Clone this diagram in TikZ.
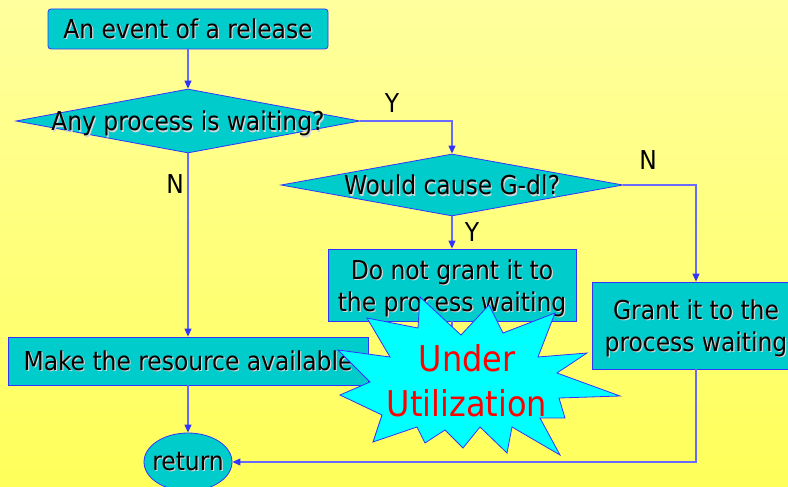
\documentclass[tikz,border=0pt]{standalone}
\usepackage{fontspec}
\setmainfont{DejaVu Sans Condensed}
\usetikzlibrary{shapes.geometric,arrows.meta}

\definecolor{boxfill}{HTML}{00CCCC}
\definecolor{edge}{HTML}{3333FF}
\definecolor{wire}{HTML}{6A6AFF}
\definecolor{bgtop}{HTML}{FFFF9E}
\definecolor{bgmid}{HTML}{FFFFD4}
\definecolor{bgbot}{HTML}{FFFF5A}
\definecolor{burst}{HTML}{00FFFF}
\definecolor{shadowc}{HTML}{D6D6D6}

% text with a soft drop shadow
\newcommand\shd[1]{\leavevmode\rlap{\kern1.2pt\raisebox{-1.2pt}{\color{shadowc}#1}}#1}
% tall strut that lowers a two-line block a little inside its box
\newcommand\toproom{\rule{0pt}{27pt}}

\begin{document}
\begin{tikzpicture}[x=1pt,y=-1pt,
  font=\fontsize{26}{32}\selectfont,
  box/.style={draw=edge, line width=0.8pt, fill=boxfill, inner sep=0pt, align=center},
  decision/.style={diamond, draw=edge, line width=0.8pt, fill=boxfill, inner sep=0pt, text depth=0pt},
  terminal/.style={ellipse, draw=edge, line width=0.8pt, fill=boxfill, inner sep=0pt},
  flow/.style={draw=wire, line width=1.1pt, -{Triangle[length=8pt,width=7pt,color=edge]}},
  plain/.style={draw=wire, line width=1.1pt},
  tag/.style={inner sep=0pt, font=\fontsize{26}{28}\selectfont},
]
\useasboundingbox (0,0) rectangle (788,487);
\clip (0,0) rectangle (788,487);

% background
\fill[top color=bgtop, middle color=bgmid, bottom color=bgbot] (0,0) rectangle (788,487);

% flow chart blocks
\node[box, rounded corners=3pt, minimum width=280, minimum height=40] (ev) at (188,29) {\shd{An event of a release}};
\node[decision, minimum width=344, minimum height=64] (q1) at (188,121) {\makebox[0pt]{\shd{Any process is waiting?}}};
\node[decision, minimum width=342, minimum height=62] (q2) at (452,185) {\makebox[0pt]{\shd{Would cause G-dl?}}};
\node[box, minimum width=248, minimum height=72] (dn) at (452,285) {\toproom\shd{Do not grant it to}\\\shd{the process waiting}};
\node[box, minimum width=208, minimum height=87] (gr) at (696,325.5) {\toproom\shd{Grant it to the}\\\shd{process waiting}};
\node[box, minimum width=360, minimum height=48] (mk) at (188,361) {\shd{Make the resource available}};
\node[terminal, minimum width=88, minimum height=58] (ret) at (188,462) {\makebox[0pt]{\shd{return}}};

% connectors
\coordinate (stub) at (452,350);
\draw[flow] (ev.south) -- (q1.north);
\draw[flow] (q1.east) -| (q2.north);
\draw[flow] (q2.south) -- (dn.north);
\draw[flow] (q2.east) -| (gr.north);
\draw[flow] (q1.south) -- (mk.north);
\draw[flow] (mk.south) -- (ret.north);
\draw[flow] (gr.south) |- (ret.east);
\draw[plain] (dn.south) -- (stub);

% branch labels
\node[tag] (y1) at (392,103) {Y};
\node[tag] (n1) at (175,184) {N};
\node[tag] (n2) at (648,160) {N};
\node[tag] (y2) at (472,232) {Y};

% starburst
\filldraw[fill=burst, draw=edge, line width=0.8pt]
  (420,297) -- (461,335) -- (489,305) -- (503,333) -- (555,313) -- (538,357)
  -- (587,353) -- (557,373) -- (620,396) -- (559,398) -- (565,418) -- (540,418)
  -- (560,455) -- (512,427) -- (507,453) -- (480,427) -- (463,448) -- (445,430)
  -- (425,443) -- (417,427) -- (373,442) -- (382,415) -- (340,395) -- (370,382)
  -- (338,350) -- (390,357) -- (367,318) -- (418,328) -- cycle;
\node[align=center, text=red, inner sep=0pt, font=\fontsize{35.5}{45}\selectfont] (ut) at (467,381) {Under\\Utilization};
\end{tikzpicture}
\end{document}
